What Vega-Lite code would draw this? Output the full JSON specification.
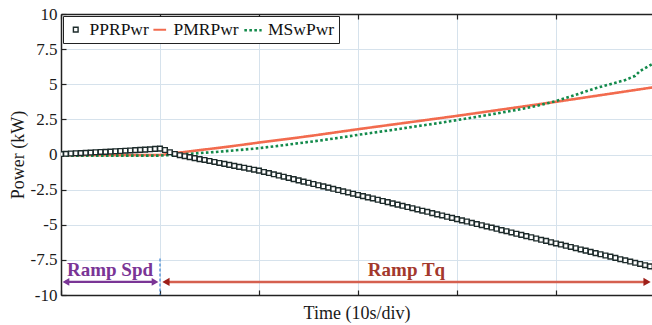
{
  "$schema": "https://vega.github.io/schema/vega-lite/v6.json",
  "width": 591,
  "height": 281,
  "autosize": {"type": "none"},
  "padding": {"left": 61, "top": 14, "right": 0, "bottom": 30},
  "background": "white",
  "config": {
    "view": {"stroke": null},
    "font": "Liberation Serif",
    "axis": {
      "labelFont": "Liberation Serif",
      "titleFont": "Liberation Serif",
      "labelFontSize": 17,
      "titleFontSize": 18,
      "titleFontWeight": "normal",
      "labelColor": "#1a1a1a",
      "titleColor": "#1a1a1a",
      "domainColor": "#222222",
      "domainWidth": 1.5,
      "tickColor": "#222222",
      "tickWidth": 1.2,
      "gridColor": "#d6e2ec",
      "gridWidth": 1
    },
    "legend": {
      "orient": "top-left",
      "offset": 2,
      "direction": "horizontal",
      "padding": 4,
      "strokeColor": "#222222",
      "fillColor": "white",
      "labelFont": "Liberation Serif",
      "labelFontSize": 17.5,
      "labelColor": "#111111",
      "columnPadding": 0,
      "labelOffset": 5,
      "symbolStrokeWidth": 2.5
    }
  },
  "datasets": {
    "ppr": [
      {"t": 0, "v": 0.03}, {"t": 0.5, "v": 0.05}, {"t": 1, "v": 0.07}, {"t": 1.5, "v": 0.09}, {"t": 2, "v": 0.1},
      {"t": 2.5, "v": 0.12}, {"t": 3, "v": 0.14}, {"t": 3.5, "v": 0.16}, {"t": 4, "v": 0.18}, {"t": 4.5, "v": 0.19},
      {"t": 5, "v": 0.21}, {"t": 5.5, "v": 0.23}, {"t": 6, "v": 0.25}, {"t": 6.5, "v": 0.27}, {"t": 7, "v": 0.29},
      {"t": 7.5, "v": 0.31}, {"t": 8, "v": 0.33}, {"t": 8.5, "v": 0.35}, {"t": 9, "v": 0.37}, {"t": 9.5, "v": 0.4},
      {"t": 10, "v": 0.42}, {"t": 10.5, "v": 0.32}, {"t": 11, "v": 0.16}, {"t": 11.5, "v": 0.04}, {"t": 12, "v": -0.05},
      {"t": 12.5, "v": -0.12}, {"t": 13, "v": -0.19}, {"t": 13.5, "v": -0.26}, {"t": 14, "v": -0.33}, {"t": 14.5, "v": -0.39},
      {"t": 15, "v": -0.46}, {"t": 15.5, "v": -0.53}, {"t": 16, "v": -0.6}, {"t": 16.5, "v": -0.67}, {"t": 17, "v": -0.74},
      {"t": 17.5, "v": -0.81}, {"t": 18, "v": -0.88}, {"t": 18.5, "v": -0.94}, {"t": 19, "v": -1.01}, {"t": 19.5, "v": -1.08},
      {"t": 20, "v": -1.15}, {"t": 20.5, "v": -1.24}, {"t": 21, "v": -1.32}, {"t": 21.5, "v": -1.41}, {"t": 22, "v": -1.5},
      {"t": 22.5, "v": -1.58}, {"t": 23, "v": -1.67}, {"t": 23.5, "v": -1.75}, {"t": 24, "v": -1.84}, {"t": 24.5, "v": -1.93},
      {"t": 25, "v": -2.01}, {"t": 25.5, "v": -2.1}, {"t": 26, "v": -2.19}, {"t": 26.5, "v": -2.27}, {"t": 27, "v": -2.36},
      {"t": 27.5, "v": -2.44}, {"t": 28, "v": -2.53}, {"t": 28.5, "v": -2.62}, {"t": 29, "v": -2.7}, {"t": 29.5, "v": -2.79},
      {"t": 30, "v": -2.88}, {"t": 30.5, "v": -2.96}, {"t": 31, "v": -3.05}, {"t": 31.5, "v": -3.13}, {"t": 32, "v": -3.22},
      {"t": 32.5, "v": -3.31}, {"t": 33, "v": -3.39}, {"t": 33.5, "v": -3.48}, {"t": 34, "v": -3.57}, {"t": 34.5, "v": -3.65},
      {"t": 35, "v": -3.74}, {"t": 35.5, "v": -3.82}, {"t": 36, "v": -3.91}, {"t": 36.5, "v": -4.0}, {"t": 37, "v": -4.08},
      {"t": 37.5, "v": -4.17}, {"t": 38, "v": -4.26}, {"t": 38.5, "v": -4.34}, {"t": 39, "v": -4.43}, {"t": 39.5, "v": -4.51},
      {"t": 40, "v": -4.6}, {"t": 40.5, "v": -4.69}, {"t": 41, "v": -4.77}, {"t": 41.5, "v": -4.86}, {"t": 42, "v": -4.95},
      {"t": 42.5, "v": -5.03}, {"t": 43, "v": -5.12}, {"t": 43.5, "v": -5.2}, {"t": 44, "v": -5.29}, {"t": 44.5, "v": -5.38},
      {"t": 45, "v": -5.46}, {"t": 45.5, "v": -5.55}, {"t": 46, "v": -5.64}, {"t": 46.5, "v": -5.72}, {"t": 47, "v": -5.81},
      {"t": 47.5, "v": -5.89}, {"t": 48, "v": -5.98}, {"t": 48.5, "v": -6.07}, {"t": 49, "v": -6.15}, {"t": 49.5, "v": -6.24},
      {"t": 50, "v": -6.33}, {"t": 50.5, "v": -6.41}, {"t": 51, "v": -6.5}, {"t": 51.5, "v": -6.58}, {"t": 52, "v": -6.67},
      {"t": 52.5, "v": -6.76}, {"t": 53, "v": -6.84}, {"t": 53.5, "v": -6.93}, {"t": 54, "v": -7.02}, {"t": 54.5, "v": -7.1},
      {"t": 55, "v": -7.19}, {"t": 55.5, "v": -7.27}, {"t": 56, "v": -7.36}, {"t": 56.5, "v": -7.45}, {"t": 57, "v": -7.53},
      {"t": 57.5, "v": -7.62}, {"t": 58, "v": -7.71}, {"t": 58.5, "v": -7.79}, {"t": 59, "v": -7.88}, {"t": 59.5, "v": -7.96},
      {"t": 60, "v": -8.05}
    ],
    "lines": [
      {"t": 0, "s": "PMRPwr", "v": -0.05}, {"t": 5, "s": "PMRPwr", "v": -0.05}, {"t": 10, "s": "PMRPwr", "v": -0.04},
      {"t": 12, "s": "PMRPwr", "v": 0.14}, {"t": 14, "s": "PMRPwr", "v": 0.31}, {"t": 16, "s": "PMRPwr", "v": 0.48},
      {"t": 18, "s": "PMRPwr", "v": 0.66}, {"t": 20, "s": "PMRPwr", "v": 0.85}, {"t": 22, "s": "PMRPwr", "v": 1.03},
      {"t": 24, "s": "PMRPwr", "v": 1.21}, {"t": 26, "s": "PMRPwr", "v": 1.4}, {"t": 28, "s": "PMRPwr", "v": 1.6},
      {"t": 30, "s": "PMRPwr", "v": 1.8}, {"t": 32, "s": "PMRPwr", "v": 1.99}, {"t": 34, "s": "PMRPwr", "v": 2.18},
      {"t": 36, "s": "PMRPwr", "v": 2.37}, {"t": 38, "s": "PMRPwr", "v": 2.56}, {"t": 40, "s": "PMRPwr", "v": 2.75},
      {"t": 42, "s": "PMRPwr", "v": 2.95}, {"t": 44, "s": "PMRPwr", "v": 3.15}, {"t": 46, "s": "PMRPwr", "v": 3.35},
      {"t": 48, "s": "PMRPwr", "v": 3.55}, {"t": 50, "s": "PMRPwr", "v": 3.75}, {"t": 52, "s": "PMRPwr", "v": 3.96},
      {"t": 54, "s": "PMRPwr", "v": 4.17}, {"t": 56, "s": "PMRPwr", "v": 4.38}, {"t": 58, "s": "PMRPwr", "v": 4.59},
      {"t": 60, "s": "PMRPwr", "v": 4.8},
      {"t": 0, "s": "MSwPwr", "v": -0.08}, {"t": 5, "s": "MSwPwr", "v": -0.08}, {"t": 10, "s": "MSwPwr", "v": -0.08},
      {"t": 12, "s": "MSwPwr", "v": 0.0}, {"t": 14, "s": "MSwPwr", "v": 0.1}, {"t": 16, "s": "MSwPwr", "v": 0.2},
      {"t": 18, "s": "MSwPwr", "v": 0.32}, {"t": 20, "s": "MSwPwr", "v": 0.45}, {"t": 22, "s": "MSwPwr", "v": 0.62},
      {"t": 24, "s": "MSwPwr", "v": 0.8}, {"t": 26, "s": "MSwPwr", "v": 0.98}, {"t": 28, "s": "MSwPwr", "v": 1.18},
      {"t": 30, "s": "MSwPwr", "v": 1.4}, {"t": 32, "s": "MSwPwr", "v": 1.6}, {"t": 34, "s": "MSwPwr", "v": 1.8},
      {"t": 36, "s": "MSwPwr", "v": 2.02}, {"t": 38, "s": "MSwPwr", "v": 2.22}, {"t": 40, "s": "MSwPwr", "v": 2.45},
      {"t": 42, "s": "MSwPwr", "v": 2.68}, {"t": 44, "s": "MSwPwr", "v": 2.92}, {"t": 46, "s": "MSwPwr", "v": 3.17},
      {"t": 48, "s": "MSwPwr", "v": 3.45}, {"t": 50, "s": "MSwPwr", "v": 3.8}, {"t": 52, "s": "MSwPwr", "v": 4.25},
      {"t": 54, "s": "MSwPwr", "v": 4.72}, {"t": 56, "s": "MSwPwr", "v": 5.1}, {"t": 57, "s": "MSwPwr", "v": 5.3},
      {"t": 57.5, "s": "MSwPwr", "v": 5.45}, {"t": 58, "s": "MSwPwr", "v": 5.6}, {"t": 58.5, "s": "MSwPwr", "v": 5.95},
      {"t": 59, "s": "MSwPwr", "v": 6.15}, {"t": 60, "s": "MSwPwr", "v": 6.55}
    ],
    "marker": [{"t": 10, "y0": -7.4, "y1": -10}],
    "spdArrow": [{"t0": 0.4, "t1": 9.5, "y": -9.07}],
    "tqArrow": [{"t0": 10.6, "t1": 59.2, "y": -9.07}],
    "spdLeft": [{"t": 0.5, "y": -9.07}],
    "spdRight": [{"t": 9.5, "y": -9.07}],
    "tqLeft": [{"t": 10.6, "y": -9.07}],
    "tqRight": [{"t": 59.2, "y": -9.07}],
    "spdText": [{"t": 4.95, "y": -8.68, "label": "Ramp Spd"}],
    "tqText": [{"t": 34.9, "y": -8.68, "label": "Ramp Tq"}]
  },
  "resolve": {"axis": {"x": "independent", "y": "independent"}},
  "layer": [
    {
      "data": {"name": "lines"},
      "mark": {"type": "line", "strokeWidth": 2.6, "clip": true, "strokeCap": "butt"},
      "encoding": {
        "x": {
          "field": "t", "type": "quantitative",
          "scale": {"domain": [0, 59.7], "nice": false, "zero": false},
          "axis": {
            "orient": "bottom", "values": [0, 10, 20, 30, 40, 50], "labels": false,
            "grid": true, "tickSize": -5, "title": "Time (10s/div)", "titlePadding": 9
          }
        },
        "y": {
          "field": "v", "type": "quantitative",
          "scale": {"domain": [-10, 10], "nice": false, "zero": false},
          "axis": {
            "values": [-10, -7.5, -5, -2.5, 0, 2.5, 5, 7.5, 10], "labelExpr": "'' + datum.value",
            "grid": true, "tickSize": -5, "labelPadding": 9, "title": "Power (kW)", "titlePadding": 3
          }
        },
        "color": {
          "field": "s", "type": "nominal",
          "scale": {"domain": ["PPRPwr", "PMRPwr", "MSwPwr"], "range": ["#1d2b2b", "#f26b4e", "#138a4b"]},
          "legend": {"title": null}
        },
        "strokeDash": {
          "field": "s", "type": "nominal",
          "scale": {"domain": ["PPRPwr", "PMRPwr", "MSwPwr"], "range": [[1, 0], [1, 0], [2.6, 2.4]]},
          "legend": {"title": null}
        }
      }
    },
    {
      "data": {"name": "ppr"},
      "transform": [{"calculate": "'PPRPwr'", "as": "s"}],
      "mark": {"type": "point", "filled": false, "fill": "white", "opacity": 1, "clip": true},
      "encoding": {
        "x": {"field": "t", "type": "quantitative", "axis": null},
        "y": {"field": "v", "type": "quantitative", "axis": null},
        "color": {"field": "s", "type": "nominal", "legend": {"title": null}},
        "shape": {
          "field": "s", "type": "nominal",
          "scale": {"domain": ["PPRPwr", "PMRPwr", "MSwPwr"], "range": ["square", "stroke", "stroke"]},
          "legend": {"title": null}
        },
        "size": {
          "field": "s", "type": "nominal",
          "scale": {"domain": ["PPRPwr", "PMRPwr", "MSwPwr"], "range": [22, 300, 300]},
          "legend": {"title": null}
        },
        "strokeWidth": {
          "field": "s", "type": "nominal",
          "scale": {"domain": ["PPRPwr", "PMRPwr", "MSwPwr"], "range": [1.4, 2.6, 2.6]},
          "legend": {"title": null}
        }
      }
    },
    {
      "data": {"name": "marker"},
      "mark": {"type": "rule", "color": "#3f86d6", "strokeWidth": 1.2, "strokeDash": [3, 2]},
      "encoding": {
        "x": {
          "field": "t", "type": "quantitative",
          "axis": {"orient": "top", "values": [0, 10, 20, 30, 40, 50], "labels": false, "grid": false, "tickSize": -5, "title": null}
        },
        "y": {"field": "y0", "type": "quantitative", "axis": null},
        "y2": {"field": "y1"}
      }
    },
    {
      "data": {"name": "spdArrow"},
      "mark": {"type": "rule", "color": "#7a3596", "strokeWidth": 2.2},
      "encoding": {
        "x": {"field": "t0", "type": "quantitative", "axis": null},
        "x2": {"field": "t1"},
        "y": {"field": "y", "type": "quantitative", "axis": null}
      }
    },
    {
      "data": {"name": "tqArrow"},
      "mark": {"type": "rule", "color": "#d5604f", "strokeWidth": 2.6},
      "encoding": {
        "x": {"field": "t0", "type": "quantitative", "axis": null},
        "x2": {"field": "t1"},
        "y": {"field": "y", "type": "quantitative", "axis": null}
      }
    },
    {
      "data": {"name": "spdLeft"},
      "mark": {"type": "point", "shape": "triangle-left", "filled": true, "color": "#7a3596", "opacity": 1, "size": 60},
      "encoding": {
        "x": {"field": "t", "type": "quantitative", "axis": null},
        "y": {"field": "y", "type": "quantitative", "axis": null}
      }
    },
    {
      "data": {"name": "spdRight"},
      "mark": {"type": "point", "shape": "triangle-right", "filled": true, "color": "#7a3596", "opacity": 1, "size": 60},
      "encoding": {
        "x": {"field": "t", "type": "quantitative", "axis": null},
        "y": {"field": "y", "type": "quantitative", "axis": null}
      }
    },
    {
      "data": {"name": "tqLeft"},
      "mark": {"type": "point", "shape": "triangle-left", "filled": true, "color": "#9e1f1a", "opacity": 1, "size": 70},
      "encoding": {
        "x": {"field": "t", "type": "quantitative", "axis": null},
        "y": {"field": "y", "type": "quantitative", "axis": null}
      }
    },
    {
      "data": {"name": "tqRight"},
      "mark": {"type": "point", "shape": "triangle-right", "filled": true, "color": "#9e1f1a", "opacity": 1, "size": 70},
      "encoding": {
        "x": {"field": "t", "type": "quantitative", "axis": null},
        "y": {"field": "y", "type": "quantitative", "axis": null}
      }
    },
    {
      "data": {"name": "spdText"},
      "mark": {"type": "text", "font": "Liberation Serif", "fontSize": 19, "fontWeight": "bold", "color": "#7a3596", "baseline": "alphabetic", "align": "center"},
      "encoding": {
        "x": {"field": "t", "type": "quantitative", "axis": null},
        "y": {"field": "y", "type": "quantitative", "axis": null},
        "text": {"field": "label"}
      }
    },
    {
      "data": {"name": "tqText"},
      "mark": {"type": "text", "font": "Liberation Serif", "fontSize": 19, "fontWeight": "bold", "color": "#a3382c", "baseline": "alphabetic", "align": "center"},
      "encoding": {
        "x": {"field": "t", "type": "quantitative", "axis": null},
        "y": {"field": "y", "type": "quantitative", "axis": null},
        "text": {"field": "label"}
      }
    }
  ]
}
